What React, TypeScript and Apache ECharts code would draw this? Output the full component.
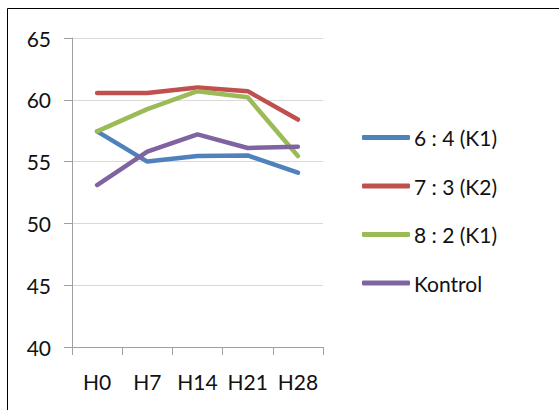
import React, { useEffect, useRef } from "react";
import * as echarts from "echarts";

const categories = ["H0", "H7", "H14", "H21", "H28"];
const seriesNames = ["6 : 4 (K1)", "7 : 3 (K2)", "8 : 2 (K1)", "Kontrol"];
const s64 = [57.45, 55.0, 55.45, 55.5, 54.1];
const s73 = [60.55, 60.55, 61.0, 60.7, 58.4];
const s82 = [57.45, 59.25, 60.7, 60.2, 55.45];
const kontrol = [53.1, 55.8, 57.2, 56.1, 56.2];
const colors = ["#4F81BD", "#C0504D", "#9BBB59", "#8064A2"];

export default function App() {
  const ref = useRef<HTMLDivElement>(null);
  useEffect(() => {
    if (!ref.current) return;
    const chart = echarts.init(ref.current, undefined, { renderer: "svg" });
    const values = [s64, s73, s82, kontrol];
    const font = "Lato, 'Open Sans', sans-serif";
    chart.setOption({
      animation: false,
      color: colors,
      textStyle: { fontFamily: font },
      graphic: [
        {
          type: "rect",
          shape: { x: 7.5, y: 8.5, width: 560, height: 410 },
          style: { fill: "none", stroke: "#000", lineWidth: 1 },
          silent: true,
        },
      ],
      grid: { left: 72, right: 236, top: 38, bottom: 63 },
      legend: {
        orient: "vertical",
        left: 357,
        top: 121,
        itemWidth: 48,
        itemHeight: 5,
        itemGap: 25.5,
        icon: "roundRect",
        textStyle: { fontSize: 21, color: "#111", fontFamily: font, lineHeight: 23, padding: [0, 0, 0, -1] },
        data: seriesNames,
      },
      xAxis: {
        type: "category",
        data: categories,
        boundaryGap: true,
        axisLine: { lineStyle: { color: "#A0A0A0", width: 1 } },
        axisTick: { show: true, length: 8, lineStyle: { color: "#A0A0A0" } },
        axisLabel: { fontSize: 21, color: "#111", margin: 24, fontFamily: font, interval: 0, hideOverlap: false },
        splitLine: { show: false },
      },
      yAxis: {
        type: "value",
        min: 40,
        max: 65,
        interval: 5,
        axisLine: { show: true, lineStyle: { color: "#A0A0A0", width: 1 } },
        axisTick: { show: true, length: 8, inside: false, lineStyle: { color: "#A0A0A0" } },
        axisLabel: { fontSize: 21, color: "#111", margin: 21, fontFamily: font },
        splitLine: { show: true, lineStyle: { color: "#D9D9D9", width: 1 } },
      },
      series: seriesNames.map((name, i) => ({
        name,
        type: "line",
        data: values[i],
        symbol: "none",
        lineStyle: { width: 4.5, color: colors[i], cap: "round", join: "round" },
        itemStyle: { color: colors[i] },
      })),
    });
    return () => chart.dispose();
  }, []);
  return (
    <div
      ref={ref}
      style={{ position: "absolute", left: 0, top: 0, width: 559, height: 410, background: "#fff" }}
    />
  );
}
